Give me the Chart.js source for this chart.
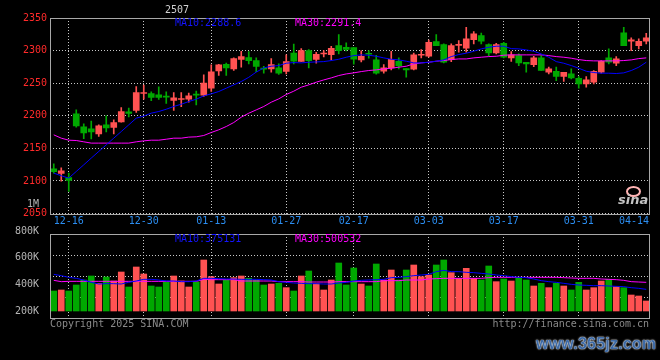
<!DOCTYPE html>
<html>
<head>
<meta charset="utf-8">
<script src="https://cdn.jsdelivr.net/npm/chart.js@4.4.1/dist/chart.umd.min.js"></script>
<style>
  html, body { margin: 0; padding: 0; background: #000; }
  #wrap { position: relative; width: 660px; height: 360px; overflow: hidden; background: #000;
          font-family: "DejaVu Sans Mono", monospace; font-size: 10px; }
  #price { position: absolute; left: 0; top: 0; }
  #vol { position: absolute; left: 0; top: 190px; }
  .t { position: absolute; white-space: pre; line-height: 10px; }
  #mark { position: absolute; left: 536px; top: 335px; font: bold 16px "Liberation Sans", sans-serif;
          color: #3d6aa6; text-shadow: 0 0 2px #fff, 0 0 1px #fff; letter-spacing: 0.2px; }
  #sinaEye { position: absolute; left: 626px; top: 186px; width: 11px; height: 7px;
             border: 2px solid #ffb4b4; border-radius: 50%; }
  #sinaTxt { position: absolute; left: 618px; top: 193px; font: italic bold 13px "DejaVu Sans", sans-serif;
             color: #c4c4c4; line-height: 13px; }
</style>
</head>
<body>
<div id="wrap">
  <canvas id="price" width="660" height="232"></canvas>
  <canvas id="vol" width="660" height="150"></canvas>
  <div class="t" style="left:165px;top:5px;color:#d0d0d0">2507</div>
  <div class="t" style="left:175px;top:18px;color:#1414ff">MA10:2288.6</div>
  <div class="t" style="left:295px;top:18px;color:#ff00ff">MA30:2291.4</div>
  <div class="t" style="left:175px;top:234px;color:#1414ff">MA10:375131</div>
  <div class="t" style="left:295px;top:234px;color:#ff00ff">MA30:500532</div>
  <div class="t" style="left:50px;top:319px;color:#8a8a8a">Copyright 2025 SINA.COM</div>
  <div class="t" style="right:11px;top:319px;color:#8a8a8a">http://finance.sina.com.cn</div>
  <div id="sinaEye"></div>
  <div id="sinaTxt">sina</div>
  <div id="mark">www.365jz.com</div>
</div>
<script>
// trading days shown, 2024-12-12 .. 2025-04-14
const dates = [
  '12-12','12-13','12-16','12-17','12-18','12-19','12-20','12-23','12-24','12-25','12-26','12-27','12-30','12-31',
  '01-02','01-03','01-06','01-07','01-08','01-09','01-10','01-13','01-14','01-15','01-16','01-17','01-20','01-21',
  '01-22','01-23','01-24','01-27',
  '02-05','02-06','02-07','02-10','02-11','02-12','02-13','02-14','02-17','02-18','02-19','02-20','02-21','02-24',
  '02-25','02-26','02-27','02-28',
  '03-03','03-04','03-05','03-06','03-07','03-10','03-11','03-12','03-13','03-14','03-17','03-18','03-19','03-20',
  '03-21','03-24','03-25','03-26','03-27','03-28','03-31',
  '04-01','04-02','04-03','04-07','04-08','04-09','04-10','04-11','04-14'
];
const dateTicks = ['12-16','12-30','01-13','01-27','02-17','03-03','03-17','03-31','04-14'];
const priceTicks = [2050, 2100, 2150, 2200, 2250, 2300, 2350];
const volTicks = [200000, 400000, 600000, 800000, 1000000];

const open = [
  2118.6, 2111.5, 2105.3, 2203, 2183, 2180, 2172.3, 2186, 2182, 2190.7,
  2206, 2208, 2234.2, 2234, 2232, 2229.5, 2223.4, 2225, 2225.4, 2232.6,
  2231.5, 2242.3, 2268.8, 2279, 2271.9, 2286.3, 2289.3, 2284.5, 2273, 2271.9,
  2273.5, 2268, 2296, 2283.5, 2300, 2286.5, 2294.7, 2293.9, 2307.7, 2305,
  2304.6, 2285.7, 2295.4, 2285.7, 2268.3, 2273.4, 2283.7, 2272.4, 2271.5, 2292.9,
  2291.3, 2313.8, 2309.2, 2286, 2308, 2303.6, 2316.9, 2323, 2309.2, 2296.4,
  2311.3, 2288.8, 2292.3, 2282.1, 2278.5, 2288.8, 2266.8, 2268.3, 2260.2, 2264.2,
  2257.6, 2248.9, 2251.5, 2266.8, 2288.8, 2280.6, 2327.1, 2314.3, 2307.7, 2314.3
];
const high = [
  2126.3, 2120, 2112, 2209, 2187.6, 2192, 2186, 2199.9, 2193.7, 2212.6,
  2211.6, 2244.8, 2247, 2236.6, 2244.3, 2236.6, 2235.6, 2235.6, 2234.6, 2238,
  2262.7, 2278, 2279, 2281, 2288.8, 2299, 2298.5, 2288.8, 2276, 2287.8,
  2279.6, 2293.4, 2310, 2303, 2301.5, 2297.5, 2300, 2306.7, 2324.5, 2311.8,
  2304.6, 2299.5, 2300, 2292.9, 2278.5, 2299, 2288.8, 2272.4, 2296, 2301.5,
  2316, 2324.5, 2310.2, 2310.3, 2315.3, 2335.8, 2329, 2327, 2310.3, 2311.3,
  2312.8, 2298.5, 2294.9, 2282.1, 2291.3, 2292.3, 2274.5, 2274.5, 2266.8, 2271.9,
  2260.2, 2260.2, 2269.4, 2284.7, 2302.6, 2290.8, 2335.8, 2319.4, 2317.9, 2326.6
];
const low = [
  2112, 2099.7, 2083.9, 2182.5, 2165, 2164.6, 2168.2, 2175.3, 2172.3, 2190,
  2198.3, 2205, 2225.4, 2223.3, 2225, 2218.8, 2208, 2214, 2220.8, 2216.7,
  2229.5, 2237.2, 2262, 2262, 2269.4, 2274.5, 2279.6, 2267.8, 2265.3, 2266.8,
  2263.3, 2264, 2279.6, 2283.5, 2273.3, 2280.6, 2290.3, 2285.7, 2294.9, 2299.5,
  2279, 2282.6, 2288.2, 2263.7, 2265.3, 2270.4, 2271.9, 2259.1, 2270.4, 2288.8,
  2290, 2307.7, 2281.1, 2283, 2297.5, 2297.5, 2310.3, 2310.3, 2292.3, 2294.9,
  2288.8, 2283.2, 2277, 2266.8, 2275.5, 2269.4, 2264.2, 2254, 2252.5, 2256.6,
  2242.3, 2243.8, 2248.9, 2265.3, 2279.6, 2277, 2307.7, 2300, 2302.6, 2310.3
];
const close = [
  2114, 2115.5, 2100.7, 2184.5, 2173.8, 2175.3, 2184.5, 2181.5, 2189.6, 2206.5,
  2203.4, 2235.6, 2234.8, 2228, 2228, 2228.5, 2227.4, 2226, 2230.5, 2231.6,
  2250, 2267.3, 2278, 2273.5, 2287.8, 2290.8, 2284.7, 2275.7, 2271.5, 2278.6,
  2265.3, 2283.2, 2283.7, 2300, 2284.7, 2294.2, 2296.2, 2303.6, 2300, 2301.8,
  2286.8, 2291.3, 2294.4, 2265.3, 2273.4, 2286.7, 2276.5, 2270.4, 2293.5, 2293.9,
  2312.8, 2307.7, 2282.1, 2307.7, 2309.2, 2317.9, 2325.6, 2314.3, 2296.4, 2309.2,
  2289.8, 2293.4, 2281.1, 2279.6, 2288.8, 2269.4, 2271.9, 2260.2, 2266.8, 2258.1,
  2248.9, 2255, 2268.3, 2283.7, 2282.1, 2287.3, 2307.7, 2316.4, 2314.3, 2319.4
];
const ma10 = [
  2112, 2107.9, 2104.3, 2114.5, 2124.7, 2135, 2145.2, 2155.4, 2165.6, 2175.8,
  2186, 2196.3, 2199.5, 2204, 2206.5, 2210, 2214.2, 2217.7, 2221.8, 2225.4,
  2230.5, 2233.6, 2237.2, 2242.3, 2247.4, 2252.5, 2259, 2267, 2273.4, 2276,
  2277, 2280.6, 2281.6, 2281.1, 2282.1, 2282.6, 2283.1, 2284.7, 2286.7, 2289.8,
  2292.3, 2293.4, 2292.9, 2291.3, 2288.8, 2286.7, 2285.7, 2283.7, 2281.1, 2281.1,
  2282.1, 2283.7, 2285.7, 2290.8, 2293.9, 2296, 2299, 2302.6, 2305.1, 2306.7,
  2306.7, 2303, 2302.6, 2301, 2299, 2294.9, 2289.8, 2283.1, 2280.6, 2277,
  2272.9, 2268.3, 2266.3, 2265.3, 2265.3, 2264.8, 2265.8, 2269.4, 2274.5, 2282.1
];
const ma30 = [
  2170.7, 2165.6, 2162.5, 2162, 2160, 2158, 2158, 2158, 2158, 2158,
  2158, 2160, 2161.5, 2162.5, 2162.5, 2164, 2165.6, 2165.6, 2167.2, 2167.7,
  2169.7, 2174.3, 2178.4, 2183.5, 2189.6, 2197.8, 2203.9, 2209, 2214.2, 2220.8,
  2225.9, 2232.6, 2237.7, 2243.8, 2247.4, 2251.5, 2255, 2258.1, 2261.7, 2264.2,
  2265.8, 2267.8, 2269.4, 2270.4, 2271.9, 2272.9, 2274.5, 2276, 2279.6, 2281.1,
  2282.1, 2283.7, 2284.7, 2286.2, 2287.2, 2287.2, 2288.8, 2289.8, 2290.8, 2291.3,
  2292.9, 2293.4, 2293.4, 2293.4, 2293.4, 2293.4, 2292.3, 2290.8, 2289.8, 2288.3,
  2286.2, 2284.7, 2284.2, 2284.2, 2284.2, 2284.2, 2284.7, 2285.7, 2287.7, 2288.8
];
const volume = [
  350000, 357500, 350000, 395000, 432500, 462500, 407500, 455000, 425000, 492500,
  380000, 530000, 477500, 387500, 380000, 417500, 462500, 425000, 380000, 417500,
  582500, 457500, 402500, 432500, 450000, 462500, 445000, 432500, 395000, 402500,
  407500, 375000, 350000, 462500, 500000, 405000, 357500, 432500, 560000, 395000,
  522500, 402500, 387500, 552500, 432500, 507500, 432500, 507500, 545000, 457500,
  470000, 545000, 582500, 487500, 445000, 520000, 445000, 432500, 537500, 420000,
  440000, 425000, 450000, 432500, 387500, 407500, 375000, 407500, 387500, 357500,
  415000, 357500, 375000, 425000, 437500, 382500, 375000, 320000, 312500, 275000
];
const volMa10 = [
  475000, 465000, 452500, 445000, 432500, 415000, 402500, 405000, 405000, 402500,
  415000, 425000, 437500, 437500, 432500, 425000, 425000, 420000, 420000, 425000,
  445000, 445000, 442500, 440000, 440000, 437500, 437500, 437500, 435000, 432500,
  420000, 415000, 410000, 407500, 405000, 405000, 402500, 402500, 410000, 415000,
  425000, 430000, 432500, 435000, 437500, 450000, 452500, 457500, 465000, 470000,
  475000, 495000, 505000, 495000, 495000, 490000, 487500, 482500, 477500, 470000,
  465000, 457500, 452500, 450000, 440000, 427500, 420000, 415000, 407500, 400000,
  395000, 392500, 390000, 390000, 387500, 385000, 382500, 375000, 370000, 362500
];
const volMa30 = [
  430000, 420000, 422500, 422500, 422500, 422500, 422500, 422500, 422500, 422500,
  422500, 422500, 422500, 422500, 422500, 422500, 422500, 422500, 422500, 422500,
  437500, 435000, 435000, 435000, 435000, 425000, 425000, 425000, 425000, 425000,
  420000, 420000, 420000, 420000, 417500, 417500, 417500, 417500, 420000, 420000,
  420000, 420000, 420000, 420000, 427500, 427500, 427500, 432500, 432500, 432500,
  440000, 442500, 445000, 445000, 445000, 445000, 445000, 445000, 450000, 452500,
  452500, 452500, 452500, 452500, 452500, 452500, 452500, 452500, 450000, 447500,
  445000, 445000, 445000, 440000, 437500, 435000, 430000, 420000, 417500, 415000
];

const UP = '#ff5252';
const DOWN = '#00a800';
const BLUE = '#0000ff';
const MAGENTA = '#ff00ff';
const GRID = '#c8c8c8';
const FONT = { family: 'DejaVu Sans Mono', size: 10 };

Chart.defaults.font.family = FONT.family;
Chart.defaults.font.size = FONT.size;

const candleColor = ctx => close[ctx.dataIndex] >= open[ctx.dataIndex] ? UP : DOWN;
const gridIdx = new Set(dateTicks.slice(0, -1).map(d => dates.indexOf(d)));

// frame round each panel
const frame = {
  id: 'frame',
  afterDraw(chart) {
    const { ctx, chartArea: a } = chart;
    ctx.save();
    ctx.strokeStyle = '#a8a8a8';
    ctx.lineWidth = 1;
    ctx.strokeRect(Math.round(a.left) + 0.5, Math.round(a.top) + 0.5,
                   Math.round(a.width) - 1, Math.round(a.height));
    ctx.restore();
  }
};

// date labels under price panel, last one kept inside the frame
const dateLabels = {
  id: 'dateLabels',
  afterDraw(chart) {
    const { ctx, chartArea: a } = chart;
    const xs = chart.scales.x;
    ctx.save();
    ctx.font = '10px "DejaVu Sans Mono"';
    ctx.fillStyle = '#2b8df0';
    ctx.textBaseline = 'top';
    dateTicks.forEach(d => {
      const w = ctx.measureText(d).width;
      let x = xs.getPixelForValue(dates.indexOf(d)) - w / 2;
      x = Math.min(x, a.right - w - 1);
      ctx.fillText(d, x, a.bottom + 3);
    });
    ctx.restore();
  }
};

const xAxis = () => ({
  offset: true,
  grid: { offset: false, drawTicks: false, color: c => gridIdx.has(c.index) ? GRID : 'transparent' },
  border: { display: false, dash: [1, 2] },
  ticks: { display: false, autoSkip: false },
  afterFit: s => { s.height = 0; }
});

const lineSet = (data, color, axis) => ({
  type: 'line', data, borderColor: color, borderWidth: 1, pointRadius: 0,
  tension: 0, order: 0, yAxisID: axis
});

new Chart(document.getElementById('price'), {
  type: 'bar',
  data: {
    labels: dates,
    datasets: [
      lineSet(ma10, BLUE, 'y'),
      lineSet(ma30, MAGENTA, 'y'),
      {
        data: dates.map((d, i) => [open[i], close[i]]),
        backgroundColor: candleColor, barThickness: 6, minBarLength: 1,
        grouped: false, order: 1, yAxisID: 'y'
      },
      {
        data: dates.map((d, i) => [low[i], high[i]]),
        backgroundColor: candleColor, barThickness: 1,
        grouped: false, order: 2, yAxisID: 'y'
      }
    ]
  },
  options: {
    responsive: false, animation: false, devicePixelRatio: 1,
    layout: { padding: { top: 18, right: 10, bottom: 18.5, left: 0 } },
    plugins: { legend: { display: false }, tooltip: { enabled: false } },
    scales: {
      x: xAxis(),
      y: {
        min: 2050, max: 2350,
        afterBuildTicks: s => { s.ticks = priceTicks.map(v => ({ value: v })); },
        grid: { color: GRID, drawTicks: false },
        border: { display: false, dash: [1, 2] },
        ticks: { color: '#ff2a2a', padding: 3, autoSkip: false, callback: v => String(v) },
        afterFit: s => { s.width = 50; }
      }
    }
  },
  plugins: [frame, dateLabels]
});

new Chart(document.getElementById('vol'), {
  type: 'bar',
  data: {
    labels: dates,
    datasets: [
      lineSet(volMa10, BLUE, 'yv'),
      lineSet(volMa30, MAGENTA, 'yv'),
      {
        data: volume, base: 200000,
        backgroundColor: candleColor, barThickness: 6,
        grouped: false, order: 1, yAxisID: 'yv'
      }
    ]
  },
  options: {
    responsive: false, animation: false, devicePixelRatio: 1,
    layout: { padding: { top: 44, right: 10, bottom: 22, left: 0 } },
    plugins: { legend: { display: false }, tooltip: { enabled: false } },
    scales: {
      x: xAxis(),
      yv: {
        position: 'left', min: 147500, max: 777500,
        afterBuildTicks: s => { s.ticks = volTicks.map(v => ({ value: v })); },
        grid: { display: false },
        border: { display: false },
        ticks: {
          color: '#b4b4b4', padding: 3, autoSkip: false,
          callback: v => v >= 1000000 ? (v / 1000000) + 'M' : (v / 1000) + 'K'
        },
        afterFit: s => { s.width = 50; }
      },
      yg: {
        position: 'right', min: 0, max: 4,
        ticks: { display: false, stepSize: 1 },
        grid: { color: GRID, drawTicks: false },
        border: { display: false, dash: [1, 2] },
        afterFit: s => { s.width = 0; }
      }
    }
  },
  plugins: [frame]
});
</script>
</body>
</html>
